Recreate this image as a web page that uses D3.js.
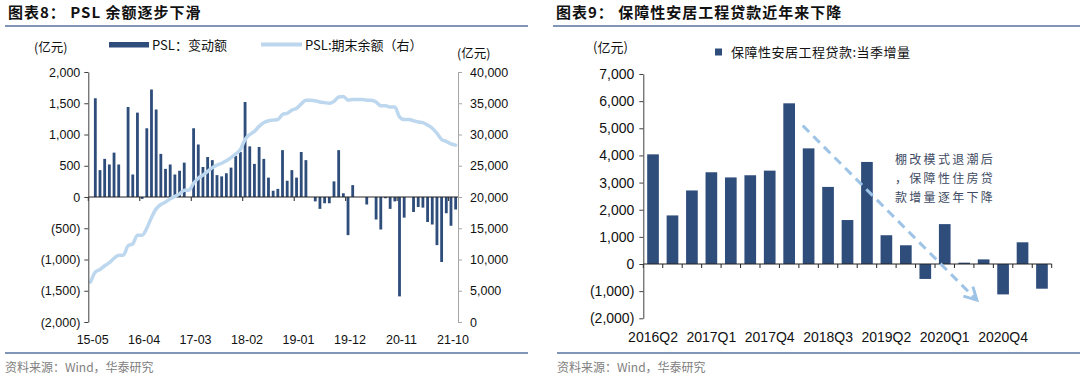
<!DOCTYPE html>
<html><head><meta charset="utf-8">
<script src="https://cdn.jsdelivr.net/npm/d3@7"></script>
<style>body{margin:0;background:#fff}svg{display:block}</style>
</head><body>
<svg id="c" width="1080" height="378"></svg>
<script>
// ---------- Data: chart 8 (PSL) ----------
const pslMonths = ["15-05","15-06","15-07","15-08","15-09","15-10","15-11","15-12",
"16-01","16-02","16-03","16-04","16-05","16-06","16-07","16-08","16-09","16-10","16-11","16-12",
"17-01","17-02","17-03","17-04","17-05","17-06","17-07","17-08","17-09","17-10","17-11","17-12",
"18-01","18-02","18-03","18-04","18-05","18-06","18-07","18-08","18-09","18-10","18-11","18-12",
"19-01","19-02","19-03","19-04","19-05","19-06","19-07","19-08","19-09","19-10","19-11","19-12",
"20-01","20-02","20-03","20-04","20-05","20-06","20-07","20-08","20-09","20-10","20-11","20-12",
"21-01","21-02","21-03","21-04","21-05","21-06","21-07","21-08","21-09","21-10","21-11"];
const pslTickLabels = ["15-05","16-04","17-03","18-02","19-01","19-12","20-11","21-10"];
const pslChange = [0,1580,430,610,520,710,520,0,
1440,360,1350,-30,1100,1720,1400,690,450,520,360,420,
550,0,1100,840,480,640,590,350,330,380,470,660,
720,1520,810,530,800,610,310,100,130,750,260,430,
310,720,590,0,-70,-190,-100,-100,250,750,60,-610,
190,0,0,-120,0,-360,-520,-20,-190,-70,-1590,-330,
0,-240,-160,-170,-400,-440,-770,-1040,-260,-460,-200];
const pslBalance = [6400,8000,8400,9000,9500,10200,10700,10700,
12200,12500,13900,13900,15000,16700,18100,18800,19200,19700,20100,20500,
21100,21100,22200,23000,23500,24100,24700,25100,25400,25800,26300,26900,
27600,29200,30000,30500,31300,31900,32200,32300,32400,33200,33400,33900,
34200,34900,35500,35500,35400,35200,35100,35000,35300,36000,36100,35500,
35600,35600,35600,35500,35500,35200,34600,34600,34400,34400,32800,32400,
32400,32200,32000,31900,31500,31000,30200,29200,28900,28500,28300];
const pslLeftTicks = [-2000,-1500,-1000,-500,0,500,1000,1500,2000];
const pslRightTicks = [0,5000,10000,15000,20000,25000,30000,35000,40000];

// ---------- Data: chart 9 (housing loans) ----------
const quarters = ["2016Q2","2016Q3","2016Q4","2017Q1","2017Q2","2017Q3","2017Q4",
"2018Q1","2018Q2","2018Q3","2018Q4","2019Q1","2019Q2","2019Q3","2019Q4",
"2020Q1","2020Q2","2020Q3","2020Q4","2021Q1","2021Q2"];
const quarterTickLabels = ["2016Q2","2017Q1","2017Q4","2018Q3","2019Q2","2020Q1","2020Q4"];
const loanIncrease = [4040,1790,2710,3380,3190,3270,3440,5920,4260,2840,1620,3760,1060,690,-550,1470,50,170,-1120,800,-910];
const loanTicks = [-2000,-1000,0,1000,2000,3000,4000,5000,6000,7000];
const arrowFrom = [8.2, 5100];   // [category position, value]
const arrowTo = [17.15, -1330];
const noteLines = ["棚改模式退潮后","，保障性住房贷","款增量逐年下降"];

// ---------- Styles ----------
const NAVY = "#2E4D7B", LIGHT = "#BDD7EE", RULE = "#8196B6";
const LAT = "'Liberation Sans', Arial, sans-serif";
const CJK = "'Noto Sans CJK SC', 'Liberation Sans', sans-serif";
const svg = d3.select("#c");
const fmt = v => v < 0 ? "(" + d3.format(",")(-v) + ")" : d3.format(",")(v);

// Titles & rules
function header(x, x2, title) {
  svg.append("text").attr("x", x).attr("y", 18).text(title)
    .attr("font-family", CJK).attr("font-weight", 700).attr("font-size", 15)
    .attr("letter-spacing", 1).attr("fill", "#111");
  svg.append("line").attr("x1", x - 3).attr("x2", x2).attr("y1", 26).attr("y2", 26)
    .attr("stroke", RULE).attr("stroke-width", 2);
}
header(8, 528, "图表8：  PSL 余额逐步下滑");
header(556, 1080, "图表9：  保障性安居工程贷款近年来下降");
function footer(x, x2) {
  svg.append("line").attr("x1", x).attr("x2", x2).attr("y1", 353).attr("y2", 353)
    .attr("stroke", RULE).attr("stroke-width", 2);
  svg.append("text").attr("x", x).attr("y", 372).text("资料来源：Wind，华泰研究")
    .attr("font-family", CJK).attr("font-size", 12).attr("fill", "#808080");
}
footer(5, 528);
footer(557, 1080);

// ---------- Chart 8 ----------
{
  const x0 = 88.3, x1 = 458, yT = 72, yB = 322;
  const xS = d3.scaleBand().domain(pslMonths).range([x0, x1]).paddingInner(0.4).paddingOuter(0.2);
  const yL = d3.scaleLinear().domain([-2000, 2000]).range([yB, yT]);
  const yR = d3.scaleLinear().domain([0, 40000]).range([yB, yT]);
  const bw = xS.bandwidth(), gap = (xS.step() - bw) / 2;

  svg.append("g").selectAll("rect").data(pslMonths.map((m, i) => [m, pslChange[i]]).filter(d => d[1] !== 0))
    .join("rect")
    .attr("x", d => xS(d[0])).attr("width", bw)
    .attr("y", d => yL(Math.max(0, d[1])))
    .attr("height", d => Math.abs(yL(d[1]) - yL(0)))
    .attr("fill", NAVY);

  // zero axis line and ticks
  svg.append("line").attr("x1", x0).attr("x2", x1).attr("y1", yL(0)).attr("y2", yL(0))
    .attr("stroke", "#222").attr("stroke-width", 1);
  svg.append("g").selectAll("line").data(pslTickLabels).join("line")
    .attr("x1", d => xS(d) - gap).attr("x2", d => xS(d) - gap)
    .attr("y1", yL(0)).attr("y2", yL(0) + 4).attr("stroke", "#222");
  svg.append("g").selectAll("text").data(pslTickLabels).join("text")
    .attr("x", d => xS(d) + bw / 2 + 2).attr("y", 344).attr("text-anchor", "middle")
    .attr("font-family", LAT).attr("font-size", 12.5).attr("fill", "#111").text(d => d);

  // balance line
  const line = d3.line().x((d, i) => xS(pslMonths[i]) + bw / 2).y(d => yR(d)).curve(d3.curveMonotoneX);
  svg.append("path").datum(pslBalance).attr("d", line).attr("fill", "none")
    .attr("stroke", LIGHT).attr("stroke-width", 3.5).attr("stroke-linejoin", "round").attr("stroke-linecap", "round");

  const ax = svg.append("g").attr("transform", `translate(${x0},0)`)
    .call(d3.axisLeft(yL).tickValues(pslLeftTicks).tickSize(4).tickSizeOuter(0).tickPadding(4).tickFormat(fmt));
  ax.select(".domain").attr("stroke", "#404040");
  ax.selectAll(".tick line").attr("stroke", "#404040");
  ax.selectAll("text").attr("font-family", LAT).attr("font-size", 12.5).attr("fill", "#111");
  const ar = svg.append("g").attr("transform", `translate(${x1},0)`)
    .call(d3.axisRight(yR).tickValues(pslRightTicks).tickSize(4).tickSizeOuter(0).tickPadding(8).tickFormat(fmt));
  ar.select(".domain").attr("stroke", "#A6A6A6");
  ar.selectAll(".tick line").attr("stroke", "#A6A6A6");
  ar.selectAll("text").attr("font-family", LAT).attr("font-size", 12.5).attr("fill", "#111");

  // units & legend
  svg.append("text").attr("x", 34).attr("y", 52).text("(亿元)").attr("font-family", CJK).attr("font-size", 12.5).attr("fill", "#111");
  svg.append("text").attr("x", 457).attr("y", 58).text("(亿元)").attr("font-family", CJK).attr("font-size", 12.5).attr("fill", "#111");
  svg.append("rect").attr("x", 109).attr("y", 42).attr("width", 40).attr("height", 5.5).attr("fill", NAVY);
  svg.append("text").attr("x", 152).attr("y", 50).text("PSL：变动额").attr("font-family", CJK).attr("font-size", 13).attr("fill", "#111");
  svg.append("line").attr("x1", 261).attr("x2", 302).attr("y1", 44.5).attr("y2", 44.5).attr("stroke", LIGHT).attr("stroke-width", 4);
  svg.append("text").attr("x", 305).attr("y", 50).text("PSL:期末余额（右）").attr("font-family", CJK).attr("font-size", 13).attr("fill", "#111");
}

// ---------- Chart 9 ----------
{
  const x0 = 643.3, x1 = 1051.7, yT = 74, yB = 318.3;
  const xS = d3.scaleBand().domain(quarters).range([x0, x1]).paddingInner(0.4).paddingOuter(0.2);
  const y = d3.scaleLinear().domain([-2000, 7000]).range([yB, yT]);
  const bw = xS.bandwidth();

  svg.append("g").selectAll("rect").data(quarters.map((q, i) => [q, loanIncrease[i]]))
    .join("rect")
    .attr("x", d => xS(d[0])).attr("width", bw)
    .attr("y", d => y(Math.max(0, d[1])))
    .attr("height", d => Math.abs(y(d[1]) - y(0)))
    .attr("fill", NAVY);

  svg.append("line").attr("x1", x0).attr("x2", x1).attr("y1", y(0)).attr("y2", y(0))
    .attr("stroke", "#222").attr("stroke-width", 1);
  svg.append("g").selectAll("line").data(quarters.concat(["end"])).join("line")
    .attr("x1", (d, i) => x0 + i * xS.step()).attr("x2", (d, i) => x0 + i * xS.step())
    .attr("y1", y(0)).attr("y2", y(0) + 4).attr("stroke", "#222");
  svg.append("g").selectAll("text").data(quarterTickLabels).join("text")
    .attr("x", d => xS(d) + bw / 2).attr("y", 342).attr("text-anchor", "middle")
    .attr("font-family", LAT).attr("font-size", 14).attr("fill", "#111").text(d => d);

  const ay = svg.append("g").attr("transform", `translate(${x0},0)`)
    .call(d3.axisLeft(y).tickValues(loanTicks).tickSize(4).tickSizeOuter(0).tickPadding(5).tickFormat(fmt));
  ay.select(".domain").attr("stroke", "#404040");
  ay.selectAll(".tick line").attr("stroke", "#404040");
  ay.selectAll("text").attr("font-family", LAT).attr("font-size", 14).attr("fill", "#111");

  svg.append("text").attr("x", 593).attr("y", 52).text("(亿元)").attr("font-family", CJK).attr("font-size", 13).attr("fill", "#111");
  svg.append("rect").attr("x", 715).attr("y", 48.5).attr("width", 7).attr("height", 7).attr("fill", NAVY);
  svg.append("text").attr("x", 731).attr("y", 57).text("保障性安居工程贷款:当季增量").attr("font-family", CJK)
    .attr("font-size", 13).attr("letter-spacing", 0.5).attr("fill", "#111");

  // dashed arrow annotation
  const px = c => x0 + c * xS.step();
  const ax1 = px(arrowFrom[0]), ay1 = y(arrowFrom[1]), ax2 = px(arrowTo[0]), ay2 = y(arrowTo[1]);
  svg.append("line").attr("x1", ax1).attr("y1", ay1).attr("x2", ax2).attr("y2", ay2)
    .attr("stroke", "#9DC3E6").attr("stroke-width", 3).attr("stroke-dasharray", "9,6");
  const ang = Math.atan2(ay2 - ay1, ax2 - ax1), L = 14, w = 0.5;
  const head = [[ax2 - L * Math.cos(ang - w), ay2 - L * Math.sin(ang - w)], [ax2, ay2], [ax2 - L * Math.cos(ang + w), ay2 - L * Math.sin(ang + w)]];
  svg.append("path").attr("d", d3.line()(head)).attr("fill", "none").attr("stroke", "#9DC3E6")
    .attr("stroke-width", 3).attr("stroke-linejoin", "miter");

  svg.append("g").selectAll("text").data(noteLines).join("text")
    .attr("x", 895).attr("y", (d, i) => 164 + i * 19).text(d => d)
    .attr("font-family", CJK).attr("font-size", 12).attr("letter-spacing", 2.3).attr("fill", "#3E4B63");
}
</script>
</body></html>
